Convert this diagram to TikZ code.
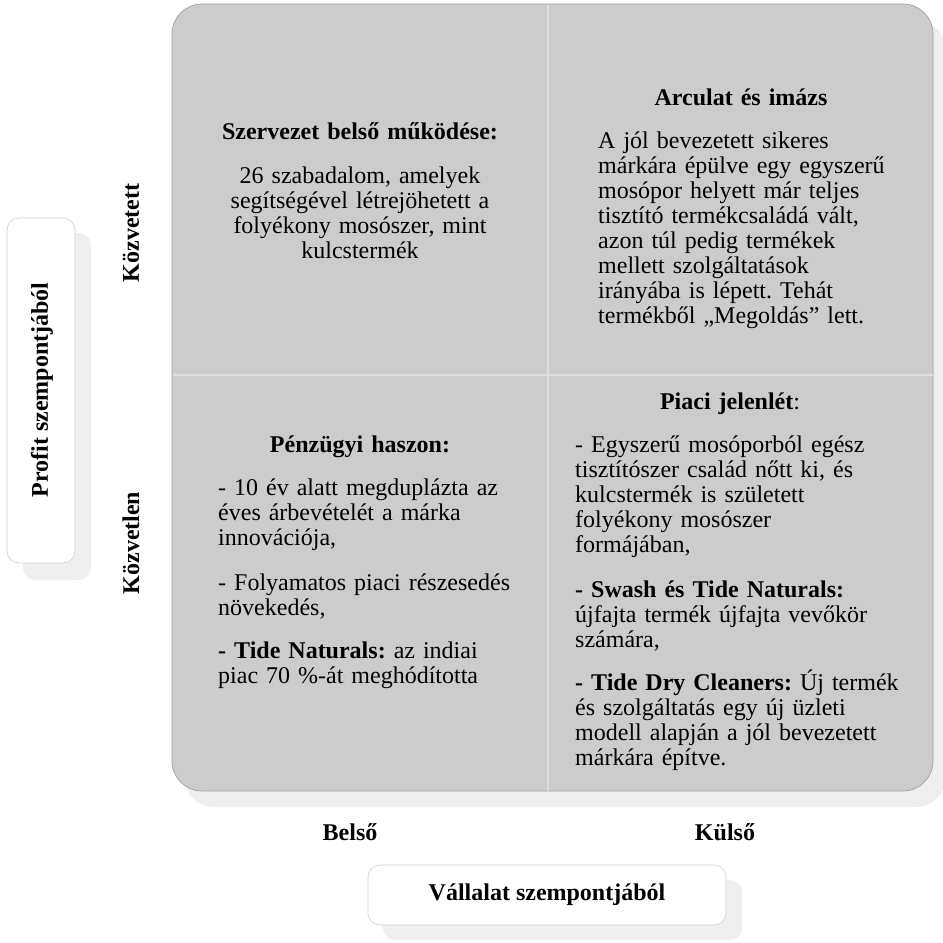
\documentclass[tikz,border=0pt]{standalone}
\usepackage{fontspec}
\setmainfont{Liberation Serif}
\definecolor{quadfill}{HTML}{CCCCCC}
\definecolor{quadline}{HTML}{A0A0A0}
\definecolor{divline}{HTML}{DEDEDE}
\definecolor{shadowc}{HTML}{EFEFEF}
\definecolor{labline}{HTML}{D0D0D0}
\frenchspacing
\tikzset{
  bodyfont/.style={font=\fontsize{24}{25}\selectfont},
  ltxt/.style={bodyfont, inner sep=0pt, text width=360pt, anchor=base west, align=left},
  ctxt/.style={bodyfont, inner sep=0pt, text width=380pt, anchor=base, align=center},
  lbl/.style={inner sep=0pt, font=\fontsize{24}{25}\selectfont\bfseries},
  labelbox/.style={fill=white, draw=labline, line width=0.6pt, rounded corners=12pt},
  divider/.style={draw=divline, line width=1.6pt}
}
\begin{document}
\begin{tikzpicture}[x=1pt,y=-1pt]
\useasboundingbox (0,0) rectangle (943,943);
% main matrix
\fill[shadowc, rounded corners=30pt] (184,20) rectangle (946,807);
\draw[fill=quadfill, draw=quadline, line width=0.7pt, rounded corners=30pt] (172,4) rectangle (933,791);
\coordinate (vtop) at (548,4.5);
\coordinate (vbot) at (548,790.5);
\coordinate (hleft) at (172.5,375);
\coordinate (hright) at (932.5,375);
\draw[divider] (vtop) -- (vbot);
\draw[divider] (hleft) -- (hright);
% left label box
\fill[shadowc, rounded corners=12pt] (23,233) rectangle (91,580);
\draw[labelbox] (7,218) rectangle (75,563);
\node[lbl, rotate=90] (profit) at (42,390) {Profit szempontjából};
% bottom label box
\fill[shadowc, rounded corners=12pt] (383,880) rectangle (742,940);
\draw[labelbox] (368,865) rectangle (726,925);
\node[lbl] (vallalat) at (547,895) {Vállalat szempontjából};
% axis labels
\node[lbl, rotate=90] (kozvetett) at (131,233) {Közvetett};
\node[lbl, rotate=90] (kozvetlen) at (131,543) {Közvetlen};
\node[lbl] (belso) at (350,832) {Belső};
\node[lbl] (kulso) at (725,832) {Külső};
% top-left quadrant
\node[ctxt] (tlh) at (360,139) {\textbf{Szervezet belső működése:}};
\node[ctxt] (tlb) at (360,183) {26 szabadalom, amelyek\\segítségével létrejöhetett a\\folyékony mosószer, mint\\kulcstermék};
% top-right quadrant
\node[ctxt] (trh) at (741,105) {\textbf{Arculat és imázs}};
\node[ltxt] (trb) at (598,148) {A jól bevezetett sikeres\\márkára épülve egy egyszerű\\mosópor helyett már teljes\\tisztító termékcsaládá vált,\\azon túl pedig termékek\\mellett szolgáltatások\\irányába is lépett. Tehát\\termékből „Megoldás” lett.};
% bottom-left quadrant
\node[ctxt] (blh) at (360,452) {\textbf{Pénzügyi haszon:}};
\node[ltxt] (bl1) at (218,495) {- 10 év alatt megduplázta az\\éves árbevételét a márka\\innovációja,};
\node[ltxt] (bl2) at (218,590) {- Folyamatos piaci részesedés\\növekedés,};
\node[ltxt] (bl3) at (218,658) {\textbf{- Tide Naturals:} az indiai\\piac 70 \%-át meghódította};
% bottom-right quadrant
\node[ctxt] (brh) at (730,409) {\textbf{Piaci jelenlét}:};
\node[ltxt] (br1) at (575,452) {- Egyszerű mosóporból egész\\tisztítószer család nőtt ki, és\\kulcstermék is született\\folyékony mosószer\\formájában,};
\node[ltxt] (br2) at (575,597) {\textbf{- Swash és Tide Naturals:}\\újfajta termék újfajta vevőkör\\számára,};
\node[ltxt] (br3) at (575,690) {\textbf{- Tide Dry Cleaners:} Új termék\\és szolgáltatás egy új üzleti\\modell alapján a jól bevezetett\\márkára építve.};
\end{tikzpicture}
\end{document}
